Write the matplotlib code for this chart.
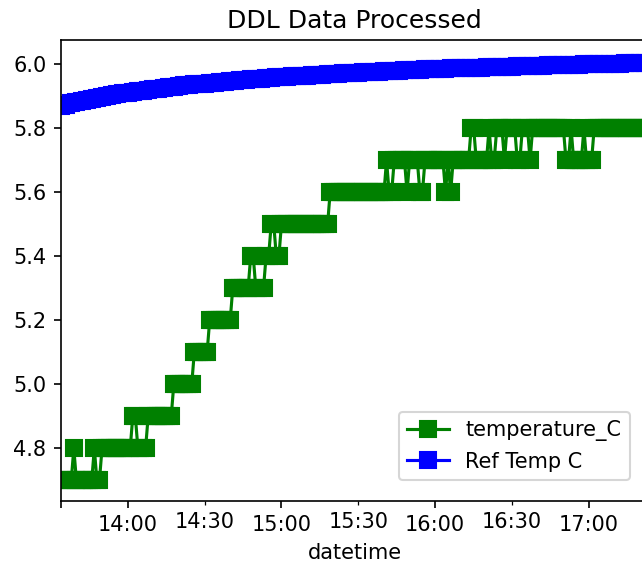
"""Plot processed DDL logger temperatures against the reference probe"""

import pandas as pd
import matplotlib
matplotlib.use('Agg')
import matplotlib.pyplot as plt
import matplotlib.dates as mdates

START = '2023-03-14 13:34'  # first logged sample

# logger readings, one per minute
temperature_C = [
    4.7, 4.7, 4.7, 4.7, 4.7, 4.8, 4.7, 4.7, 4.7, 4.7, 4.7, 4.7, 4.7, 4.8, 4.7, 4.7, 4.8, 4.8, 4.8, 4.8,
    4.8, 4.8, 4.8, 4.8, 4.8, 4.8, 4.8, 4.8, 4.9, 4.9, 4.8, 4.8, 4.8, 4.8, 4.9, 4.9, 4.9, 4.9, 4.9, 4.9,
    4.9, 4.9, 4.9, 4.9, 5.0, 5.0, 5.0, 5.0, 5.0, 5.0, 5.0, 5.0, 5.1, 5.1, 5.1, 5.1, 5.1, 5.1, 5.2, 5.2,
    5.2, 5.2, 5.2, 5.2, 5.2, 5.2, 5.2, 5.3, 5.3, 5.3, 5.3, 5.3, 5.3, 5.3, 5.4, 5.4, 5.3, 5.3, 5.3, 5.3,
    5.4, 5.4, 5.5, 5.5, 5.4, 5.4, 5.5, 5.5, 5.5, 5.5, 5.5, 5.5, 5.5, 5.5, 5.5, 5.5, 5.5, 5.5, 5.5, 5.5,
    5.5, 5.5, 5.5, 5.5, 5.5, 5.6, 5.6, 5.6, 5.6, 5.6, 5.6, 5.6, 5.6, 5.6, 5.6, 5.6, 5.6, 5.6, 5.6, 5.6,
    5.6, 5.6, 5.6, 5.6, 5.6, 5.6, 5.6, 5.7, 5.6, 5.6, 5.7, 5.7, 5.7, 5.7, 5.7, 5.6, 5.7, 5.7, 5.7, 5.7,
    5.6, 5.6, 5.7, 5.7, 5.7, 5.7, 5.7, 5.7, 5.7, 5.7, 5.6, 5.7, 5.6, 5.7, 5.7, 5.7, 5.7, 5.7, 5.7, 5.7,
    5.8, 5.8, 5.7, 5.7, 5.7, 5.7, 5.7, 5.8, 5.7, 5.7, 5.8, 5.8, 5.8, 5.7, 5.8, 5.8, 5.8, 5.8, 5.7, 5.7,
    5.8, 5.8, 5.8, 5.7, 5.8, 5.8, 5.8, 5.8, 5.8, 5.8, 5.8, 5.8, 5.8, 5.8, 5.8, 5.8, 5.8, 5.7, 5.7, 5.8,
    5.7, 5.7, 5.7, 5.7, 5.8, 5.7, 5.7, 5.7, 5.8, 5.8, 5.8, 5.8, 5.8, 5.8, 5.8, 5.8, 5.8, 5.8, 5.8, 5.8,
    5.8, 5.8, 5.8, 5.8, 5.8, 5.8, 5.8, 5.8, 5.8, 5.8]

# reference probe, one reading every 2 minutes
ref_temp_C = [
    5.870, 5.874, 5.878, 5.882, 5.886, 5.889, 5.892, 5.895, 5.898, 5.901,
    5.904, 5.906, 5.909, 5.911, 5.914, 5.916, 5.918, 5.920, 5.922, 5.924,
    5.926, 5.928, 5.930, 5.932, 5.934, 5.935, 5.937, 5.939, 5.940, 5.942,
    5.943, 5.945, 5.946, 5.948, 5.949, 5.950, 5.952, 5.953, 5.954, 5.955,
    5.957, 5.958, 5.959, 5.960, 5.961, 5.962, 5.963, 5.964, 5.965, 5.966,
    5.967, 5.968, 5.969, 5.970, 5.971, 5.972, 5.973, 5.973, 5.974, 5.975,
    5.976, 5.977, 5.977, 5.978, 5.979, 5.980, 5.980, 5.981, 5.982, 5.982,
    5.983, 5.984, 5.984, 5.985, 5.986, 5.986, 5.987, 5.987, 5.988, 5.989,
    5.989, 5.990, 5.990, 5.991, 5.991, 5.992, 5.992, 5.993, 5.993, 5.994,
    5.994, 5.995, 5.995, 5.996, 5.996, 5.997, 5.997, 5.997, 5.998, 5.998,
    5.999, 5.999, 6.000, 6.000, 6.000, 6.001, 6.001, 6.002, 6.002, 6.002,
    6.003, 6.003, 6.004, 6.004, 6.004]

temp = pd.Series(temperature_C, name='temperature_C',
                 index=pd.date_range(START, periods=len(temperature_C), freq='1min'))
ref = pd.Series(ref_temp_C, name='Ref Temp C',
                index=pd.date_range(START, periods=len(ref_temp_C), freq='2min'))
t0, t1 = temp.index[0], temp.index[-1]

fig = plt.figure(figsize=(642 / 150, 565 / 150), dpi=150)
ax = fig.add_axes([61 / 642, 64.5 / 565, 587 / 642, 460.5 / 565])

ax.plot(temp.index, temp.values, color='green', marker='s', ms=7.5, label=temp.name)
ax.plot(ref.index, ref.values, color='blue', marker='s', ms=7.5, label=ref.name)

# hourly major ticks (plus unlabelled ones at both ends), half hours as minor
hours = pd.date_range(t0.ceil('h'), t1, freq='h')
halves = hours[:-1] + pd.Timedelta('30min')
major = [t0] + list(hours) + [t1]
ax.set_xticks(mdates.date2num(major),
              [''] + [h.strftime('%H:%M') for h in hours] + [''])
ax.set_xticks(mdates.date2num(halves), [h.strftime('%H:%M') for h in halves],
              minor=True)
ax.set_xlim(t0, t1)
ax.set_ylim(4.637, 6.076)

ax.set_xlabel('datetime'); ax.set_title('DDL Data Processed')
ax.legend(loc='lower right', bbox_to_anchor=(0.969, 0.0445), borderaxespad=0)

fig.savefig('out.png', dpi=150)
